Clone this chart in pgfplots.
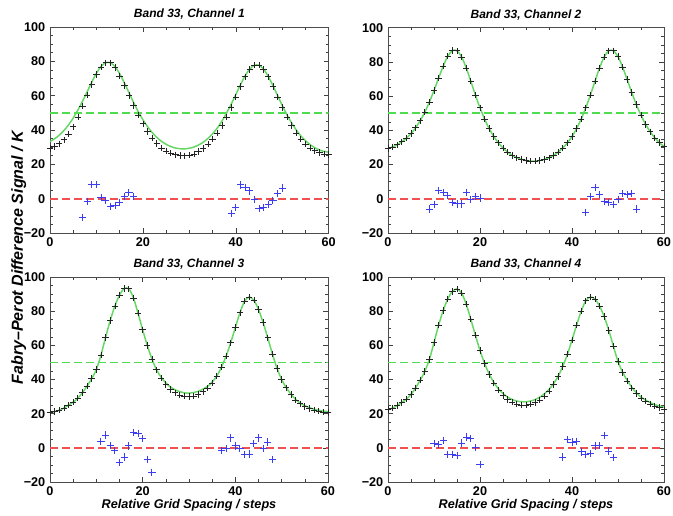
\documentclass[border=0pt]{standalone}
\usepackage{fontspec}
\setmainfont{Liberation Sans}
\usepackage{pgfplots}
\pgfplotsset{compat=1.18}
\definecolor{fitgreen}{RGB}{100,215,100}
\definecolor{dashgreen}{RGB}{80,220,80}
\definecolor{dashred}{RGB}{240,80,80}
\definecolor{resblue}{RGB}{60,60,240}
\definecolor{datagray}{RGB}{35,35,35}
\pgfplotsset{
 panel/.style={
  scale only axis, anchor=south west,
  xmin=0, xmax=60, ymin=-20, ymax=100,
  xtick={0,20,40,60}, ytick={-20,0,20,40,60,80,100},
  yticklabels={−20,0,20,40,60,80,100},
  minor x tick num=3, minor y tick num=3,
  major tick length=3.5pt, minor tick length=2pt,
  tick style={black!75, line width=0.4pt},
  axis line style={black!70, line width=0.6pt},
  ticklabel style={font=\bfseries\fontsize{9.5}{10}\selectfont},
  /pgf/number format/assume math mode=true,
  title style={font=\bfseries\itshape\fontsize{9}{10}\selectfont, yshift=-4pt},
  xlabel style={font=\bfseries\itshape\fontsize{9.5}{10}\selectfont, yshift=4pt},
 },
 fitline/.style={fitgreen, line width=1.1pt, smooth, no marks},
 datamarks/.style={only marks, mark=+, mark size=2.4pt, mark options={datagray, line width=0.5pt}},
 resmarks/.style={only marks, mark=+, mark size=2.7pt, mark options={resblue, line width=0.7pt}},
 fiftyline/.style={dashgreen, line width=1.35pt, dash pattern=on 6pt off 3pt},
 zeroline/.style={dashred, line width=1.3pt, dash pattern=on 6pt off 3pt},
}
\begin{document}
\begin{tikzpicture}
\path[use as bounding box] (0,0) rectangle (504.75pt,386.25pt);
% Panel 1
\begin{axis}[panel, at={(37.5pt,211.5pt)}, width=209pt, height=154.5pt, title={Band 33, Channel 1}]
\addplot[fiftyline] coordinates {(0,50) (60,50)};
\addplot[zeroline] coordinates {(0,0) (60,0)};
\addplot[fitline] coordinates {(0,33.3) (1,34.9) (2,37.0) (3,39.7) (4,43.0) (5,47.0) (6,51.6) (7,56.7) (8,62.3) (9,67.9) (10,73.1) (11,77.1) (12,79.2) (13,79.2) (14,76.9) (15,72.8) (16,67.5) (17,61.8) (18,56.0) (19,50.7) (20,46.0) (21,42.0) (22,38.5) (23,35.7) (24,33.4) (25,31.7) (26,30.4) (27,29.5) (28,29.1) (29,29.0) (30,29.4) (31,30.1) (32,31.3) (33,32.9) (34,35.1) (35,37.8) (36,41.1) (37,45.1) (38,49.8) (39,55.0) (40,60.6) (41,66.3) (42,71.5) (43,75.5) (44,77.7) (45,77.7) (46,75.4) (47,71.2) (48,65.9) (49,60.1) (50,54.3) (51,48.9) (52,44.2) (53,40.1) (54,36.6) (55,33.8) (56,31.5) (57,29.7) (58,28.4) (59,27.5) (60,27.1)};
\addplot[datamarks] coordinates {(0,29.3) (1,30.4) (2,32.0) (3,34.3) (4,37.5) (5,41.9) (6,47.5) (7,54.0) (8,60.3) (9,66.5) (10,72.3) (11,76.7) (12,79.2) (13,79.2) (14,76.4) (15,71.5) (16,66.0) (17,60.2) (18,54.3) (19,48.6) (20,43.6) (21,39.2) (22,35.3) (23,32.1) (24,29.6) (25,27.8) (26,26.5) (27,25.6) (28,25.1) (29,25.0) (30,25.3) (31,26.1) (32,27.4) (33,29.3) (34,31.7) (35,34.7) (36,38.3) (37,42.6) (38,47.6) (39,53.2) (40,59.3) (41,65.4) (42,71.0) (43,75.3) (44,77.7) (45,77.7) (46,75.3) (47,71.0) (48,65.4) (49,59.3) (50,53.2) (51,47.6) (52,42.6) (53,38.3) (54,34.7) (55,31.8) (56,29.6) (57,27.9) (58,26.8) (59,26.1) (60,25.7)};
\addplot[resmarks] coordinates {(7,-11) (8,-1.5) (9,8.3) (10,8.3) (11,0.5) (12,-1.2) (13,-4.5) (14,-4) (15,-2) (16,1.2) (17,3.5) (18,1.2) (39,-8.5) (40,-5) (41,8) (42,6.5) (43,4.5) (44,-0.5) (45,-5.5) (46,-5.2) (47,-3.5) (48,-1) (49,2.8) (50,6.2)};
\end{axis}
% Panel 2
\begin{axis}[panel, at={(291pt,211.5pt)}, width=207pt, height=154pt, title={Band 33, Channel 2}]
\addplot[fiftyline] coordinates {(0,50) (60,50)};
\addplot[zeroline] coordinates {(0,0) (60,0)};
\addplot[fitline] coordinates {(0,29.3) (1,30.3) (2,31.6) (3,33.3) (4,35.4) (5,38.1) (6,41.5) (7,45.6) (8,50.6) (9,56.5) (10,63.3) (11,70.5) (12,77.5) (13,83.3) (14,86.6) (15,86.5) (16,82.9) (17,76.5) (18,68.7) (19,60.6) (20,53.2) (21,46.6) (22,41.0) (23,36.4) (24,32.7) (25,29.7) (26,27.3) (27,25.4) (28,24.0) (29,23.0) (30,22.4) (31,22.0) (32,22.0) (33,22.4) (34,23.0) (35,24.0) (36,25.4) (37,27.3) (38,29.7) (39,32.7) (40,36.4) (41,41.0) (42,46.6) (43,53.2) (44,60.6) (45,68.7) (46,76.5) (47,82.9) (48,86.5) (49,86.5) (50,83.1) (51,77.0) (52,69.6) (53,62.1) (54,55.0) (55,48.8) (56,43.5) (57,39.2) (58,35.6) (59,32.8) (60,30.5)};
\addplot[datamarks] coordinates {(0,29.3) (1,30.3) (2,31.6) (3,33.3) (4,35.4) (5,38.1) (6,41.5) (7,45.6) (8,50.6) (9,56.5) (10,63.3) (11,70.5) (12,77.5) (13,83.3) (14,86.6) (15,86.5) (16,82.9) (17,76.5) (18,68.7) (19,60.6) (20,53.2) (21,46.6) (22,41.0) (23,36.4) (24,32.7) (25,29.7) (26,27.3) (27,25.4) (28,24.0) (29,23.0) (30,22.4) (31,22.0) (32,22.0) (33,22.4) (34,23.0) (35,24.0) (36,25.4) (37,27.3) (38,29.7) (39,32.7) (40,36.4) (41,41.0) (42,46.6) (43,53.2) (44,60.6) (45,68.7) (46,76.5) (47,82.9) (48,86.5) (49,86.5) (50,83.1) (51,77.0) (52,69.6) (53,62.1) (54,55.0) (55,48.8) (56,43.5) (57,39.2) (58,35.6) (59,32.8) (60,30.5)};
\addplot[resmarks] coordinates {(9,-6) (10,-3.3) (11,5) (12,3.5) (13,2) (14,-2.3) (15,-3) (16,-3) (17,3.8) (18,-0.5) (19,1.4) (20,0.4) (43,-8) (44,1.5) (45,6.8) (46,2.7) (47,-1.5) (48,-2.1) (49,-3.5) (50,-0.6) (51,2.9) (52,2.3) (53,3.3) (54,-6)};
\end{axis}
% Panel 3
\begin{axis}[panel, at={(37.5pt,24.75pt)}, width=208.5pt, height=153.75pt, title={Band 33, Channel 3}, xlabel={Relative Grid Spacing / steps}]
\addplot[fiftyline] coordinates {(0,50) (60,50)};
\addplot[zeroline] coordinates {(0,0) (60,0)};
\addplot[fitline] coordinates {(0,20.5) (1,21.2) (2,22.0) (3,23.3) (4,25.0) (5,26.8) (6,29.0) (7,32.3) (8,36.2) (9,40.5) (10,45.8) (11,54.3) (12,64.7) (13,74.5) (14,83.0) (15,89.4) (16,93.2) (17,93.1) (18,87.8) (19,78.8) (20,69.1) (21,59.9) (22,52.1) (23,45.7) (24,41.3) (25,38.0) (26,35.6) (27,34.0) (28,32.9) (29,32.2) (30,32.0) (31,32.4) (32,33.1) (33,34.3) (34,36.0) (35,38.5) (36,42.0) (37,47.2) (38,53.7) (39,61.5) (40,70.4) (41,79.1) (42,85.8) (43,88.3) (44,86.4) (45,81.0) (46,73.3) (47,64.4) (48,55.0) (49,46.5) (50,40.0) (51,35.2) (52,31.5) (53,28.4) (54,26.2) (55,24.7) (56,23.5) (57,22.6) (58,22.0) (59,21.5) (60,21.2)};
\addplot[datamarks] coordinates {(0,20.5) (1,21.2) (2,22.0) (3,23.3) (4,25.0) (5,26.8) (6,29.0) (7,32.3) (8,36.2) (9,40.5) (10,45.8) (11,54.3) (12,64.7) (13,74.5) (14,83.0) (15,89.4) (16,93.2) (17,93.1) (18,87.8) (19,78.8) (20,69.1) (21,59.9) (22,52.1) (23,45.7) (24,40.8) (25,37.0) (26,34.1) (27,32.2) (28,30.9) (29,30.2) (30,30.0) (31,30.4) (32,31.3) (33,32.8) (34,35.0) (35,38.0) (36,42.0) (37,47.2) (38,53.7) (39,61.5) (40,70.4) (41,79.1) (42,85.8) (43,88.3) (44,86.4) (45,81.0) (46,73.3) (47,64.4) (48,55.0) (49,46.5) (50,40.0) (51,35.2) (52,31.3) (53,28.1) (54,25.8) (55,24.2) (56,23.0) (57,22.1) (58,21.5) (59,21.0) (60,20.7)};
\addplot[resmarks] coordinates {(11,3.5) (12,7.5) (13,1.3) (14,-1.5) (15,-8.8) (16,-5.4) (17,1.1) (18,9) (19,8.5) (20,5.5) (21,-7) (22,-14.3) (37,-1.5) (38,-0.5) (39,5.8) (40,1.1) (41,-0.5) (42,-3.8) (43,-3.6) (44,2.4) (45,5.8) (46,-0.5) (47,3.4) (48,-6.7)};
\end{axis}
% Panel 4
\begin{axis}[panel, at={(291pt,24.75pt)}, width=207pt, height=153.75pt, title={Band 33, Channel 4}, xlabel={Relative Grid Spacing / steps}]
\addplot[fiftyline] coordinates {(0,50) (60,50)};
\addplot[zeroline] coordinates {(0,0) (60,0)};
\addplot[fitline] coordinates {(0,22.2) (1,23.3) (2,24.8) (3,26.6) (4,28.5) (5,31.3) (6,35.1) (7,39.6) (8,44.8) (9,51.8) (10,61.6) (11,71.8) (12,80.4) (13,87.2) (14,91.6) (15,93.0) (16,90.6) (17,84.1) (18,75.3) (19,65.9) (20,57.0) (21,49.4) (22,43.2) (23,38.3) (24,34.6) (25,31.8) (26,29.7) (27,28.3) (28,27.4) (29,27.0) (30,27.0) (31,27.4) (32,28.3) (33,29.7) (34,31.6) (35,34.2) (36,37.6) (37,42.0) (38,47.7) (39,54.8) (40,63.1) (41,71.8) (42,80.0) (43,86.1) (44,88.3) (45,87.0) (46,83.0) (47,76.8) (48,68.8) (49,59.5) (50,50.6) (51,44.3) (52,39.5) (53,35.5) (54,32.2) (55,29.7) (56,28.0) (57,26.5) (58,25.3) (59,24.5) (60,23.8)};
\addplot[datamarks] coordinates {(0,22.4) (1,23.4) (2,24.8) (3,26.6) (4,28.5) (5,31.3) (6,35.1) (7,39.6) (8,44.8) (9,51.8) (10,61.6) (11,71.8) (12,80.4) (13,87.2) (14,91.6) (15,93.0) (16,90.6) (17,84.1) (18,75.3) (19,65.9) (20,57.0) (21,49.4) (22,43.0) (23,37.8) (24,33.8) (25,30.7) (26,28.3) (27,26.7) (28,25.6) (29,25.1) (30,25.1) (31,25.5) (32,26.5) (33,28.1) (34,30.3) (35,33.2) (36,37.0) (37,41.7) (38,47.7) (39,54.8) (40,63.1) (41,71.8) (42,80.0) (43,86.1) (44,88.3) (45,87.0) (46,83.0) (47,76.8) (48,68.8) (49,59.5) (50,50.5) (51,44.1) (52,39.2) (53,35.1) (54,31.7) (55,29.1) (56,27.3) (57,25.7) (58,24.4) (59,23.5) (60,22.7)};
\addplot[resmarks] coordinates {(10,2.4) (11,1.9) (12,4.4) (13,-3.8) (14,-3.8) (15,-4.4) (16,2.8) (17,6.3) (18,5.4) (19,0) (20,-9.7) (38,-5.4) (39,4.8) (40,3.4) (41,3.8) (42,-2.4) (43,-3.8) (44,-3.4) (45,1.1) (46,1.5) (47,7.3) (48,-1.9) (49,-5.8)};
\end{axis}
\node[rotate=90, font=\bfseries\itshape\fontsize{12}{13}\selectfont] at (14pt,193pt) {Fabry–Perot Difference Signal / K};
\end{tikzpicture}
\end{document}
